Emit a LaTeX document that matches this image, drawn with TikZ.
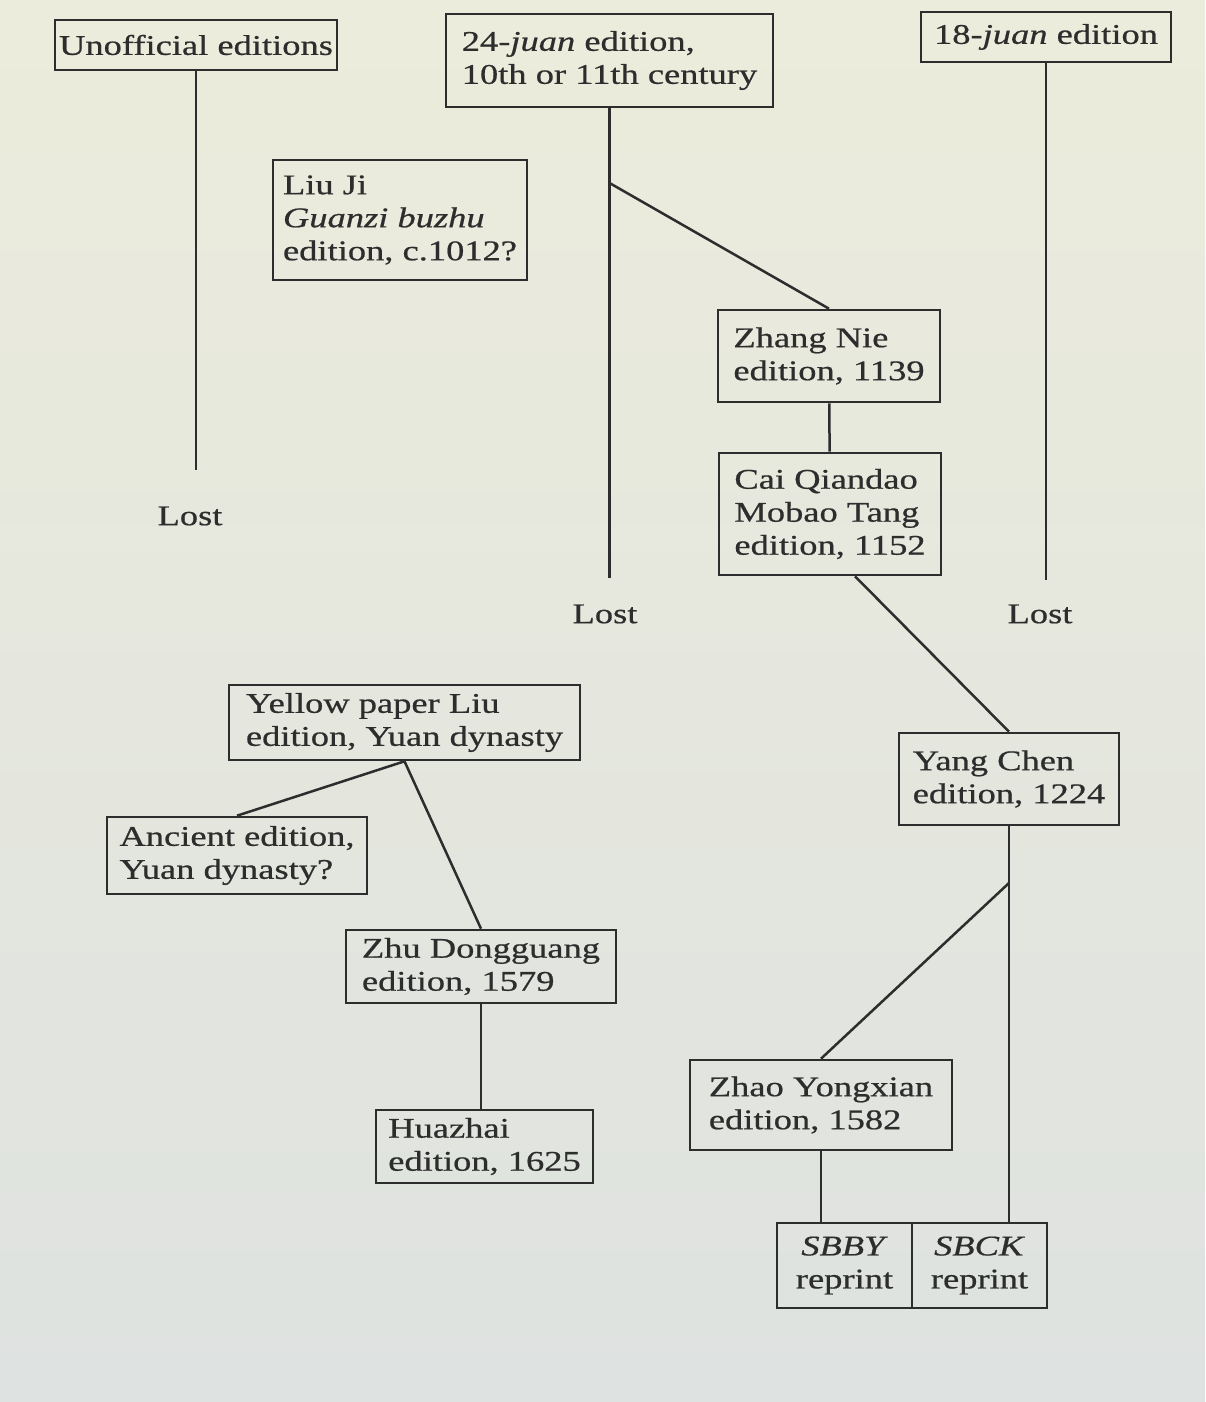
\documentclass[tikz,border=0pt]{standalone}
\usepackage{fontspec}
\setmainfont[FakeStretch=1.28, FakeBold=0.6]{Liberation Serif}
\usetikzlibrary{calc}

\definecolor{paper}{RGB}{236,236,220}
\definecolor{paperlow}{RGB}{222,226,224}
\definecolor{ink}{RGB}{45,45,45}

\tikzset{
  edbox/.style={draw=ink, line width=2.6pt, text=ink, inner sep=0pt, align=left,
    font=\fontsize{28.5}{33}\selectfont},
  lostlabel/.style={text=ink, inner sep=0pt, font=\fontsize{28.5}{33}\selectfont},
  link/.style={draw=ink, line width=2.5pt},
}

\begin{document}
\begin{tikzpicture}[x=1pt, y=-1pt]
    % page
    \shade[top color=paper, bottom color=paperlow](0,0)rectangle(1205,1402);
    \useasboundingbox(0,0)rectangle(1205,1402);

    % editions
    \node[edbox, minimum width=282, minimum height=50](unoff)at(196,45){Unofficial editions};
    \node[edbox, minimum width=327, minimum height=93](juan24)at(609.5,60.5){24-\textit{juan} edition,\\10th or 11th century};
    \node[edbox, minimum width=250, minimum height=50](juan18)at(1046,37){18-\textit{juan} edition};
    \node[edbox, minimum width=254, minimum height=120](liuji)at(400,220){Liu Ji\\\textit{Guanzi buzhu}\\edition, c.1012?};
    \node[edbox, minimum width=222, minimum height=92](zhang)at(829,356){Zhang Nie\\edition, 1139};
    \node[edbox, minimum width=222, minimum height=122](cai)at(830,514){Cai Qiandao\\Mobao Tang\\edition, 1152};
    \node[edbox, minimum width=220, minimum height=92](yang)at(1009,779){Yang Chen\\edition, 1224};
    \node[edbox, minimum width=262, minimum height=90](zhao)at(821,1105){Zhao Yongxian\\edition, 1582};
    \node[edbox, minimum width=135, minimum height=85, align=center](sbby)at(844.5,1265.5){\textit{SBBY}\\reprint};
    \node[edbox, minimum width=135, minimum height=85, align=center](sbck)at(979.5,1265.5){\textit{SBCK}\\reprint};
    \node[edbox, minimum width=351, minimum height=75](yellow)at(404.5,722.5){Yellow paper Liu\\edition, Yuan dynasty};
    \node[edbox, minimum width=260, minimum height=77](ancient)at(237,855.5){Ancient edition,\\Yuan dynasty?};
    \node[edbox, minimum width=270, minimum height=73](zhu)at(481,966.5){Zhu Dongguang\\edition, 1579};
    \node[edbox, minimum width=217, minimum height=73](huazhai)at(484.5,1146.5){Huazhai\\edition, 1625};

    % lost
    \node[lostlabel](lostL)at(190,516){Lost};
    \node[lostlabel](lostM)at(605,614){Lost};
    \node[lostlabel](lostR)at(1040,614){Lost};
    \coordinate(endL)at(unoff.south |- 0,470);
    \coordinate(endM)at(juan24.south |- 0,578);
    \coordinate(endR)at(juan18.south |- 0,580);

    % branch points
    \coordinate(b24)at(juan24.south |- 0,183);
    \coordinate(bY)at(yang.south |- 0,883);

    % lines
    \path[link](unoff.south)to(endL);
    \path[link](juan24.south)to(endM);
    \path[link](juan18.south)to(endR);
    \path[link](b24)to(zhang.north);
    \path[link](zhang)to(cai);
    \path[link]([xshift=25pt]cai.south)to(yang.north);
    \path[link](yang.south)to(yang.south |- sbck.north);
    \path[link](bY)to(zhao.north);
    \path[link](zhao.south)to(zhao.south |- sbby.north);
    \path[link](yellow.south)to(ancient.north);
    \path[link](yellow.south)to(zhu.north);
    \path[link](zhu.south)to(zhu.south |- huazhai.north);
\end{tikzpicture}
\end{document}
